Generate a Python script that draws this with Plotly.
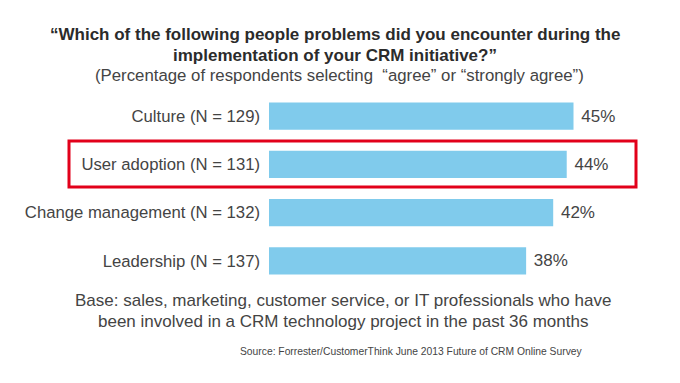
import plotly.graph_objects as go

categories = ["Culture (N = 129)", "User adoption (N = 131)", "Change management (N = 132)", "Leadership (N = 137)"]
values = [45, 44, 42, 38]

title_lines = ["<b>“Which of the following people problems did you encounter during the</b>",
               "<b>implementation of your CRM initiative?”</b>"]
subtitle = "(Percentage of respondents selecting  “agree” or “strongly agree”)"
base_lines = ["Base: sales, marketing, customer service, or IT professionals who have",
              "been involved in a CRM technology project in the past 36 months"]
source = "Source: Forrester/CustomerThink June 2013 Future of CRM Online Survey"

W, H = 680, 383
ML, MR, MT, MB = 269, 5, 92, 98
PW, PH = W - ML - MR, H - MT - MB

def px(x):
    return (x - ML) / PW

def py(y):
    return (H - MB - y) / PH

FONT = "Liberation Sans, Arial, sans-serif"
TXT = "#444444"

fig = go.Figure(go.Bar(
    x=values, y=categories, orientation="h",
    marker=dict(color="#80CBEC", line=dict(width=0)),
    width=0.56,
    text=[f"\u00a0{v}%" for v in values], textposition="outside",
    textfont=dict(size=17, color=TXT, family=FONT),
    cliponaxis=False,
    hoverinfo="skip",
))

anns = []
anns.append(dict(text=title_lines[0], x=px(335), y=py(34), font=dict(size=17, color="#2b2b2b", family=FONT)))
anns.append(dict(text=title_lines[1], x=px(335), y=py(55), font=dict(size=17, color="#2b2b2b", family=FONT)))
anns.append(dict(text=subtitle, x=px(339), y=py(76), font=dict(size=16.8, color=TXT, family=FONT)))
anns.append(dict(text=base_lines[0], x=px(343), y=py(300), font=dict(size=17, color=TXT, family=FONT)))
anns.append(dict(text=base_lines[1], x=px(343), y=py(321), font=dict(size=17, color=TXT, family=FONT)))
anns.append(dict(text=source, x=px(411), y=py(351), font=dict(size=10.3, color=TXT, family=FONT)))
for a in anns:
    a.update(xref="paper", yref="paper", showarrow=False, xanchor="center", yanchor="middle")

fig.update_layout(
    width=W, height=H,
    margin=dict(l=ML, r=MR, t=MT, b=MB),
    paper_bgcolor="white", plot_bgcolor="white",
    showlegend=False,
    xaxis=dict(range=[0, 60], visible=False, fixedrange=True),
    yaxis=dict(categoryorder="array", categoryarray=categories, autorange="reversed",
               showgrid=False, zeroline=False, showline=False, ticks="", fixedrange=True,
               tickfont=dict(size=16.7, color=TXT, family=FONT), ticklabelstandoff=8),
    annotations=anns,
    shapes=[dict(type="rect", xref="paper", yref="paper",
                 x0=px(69), x1=px(636), y0=py(141), y1=py(187),
                 line=dict(color="#E2001A", width=3), fillcolor="rgba(0,0,0,0)")],
)

fig.write_html("out.html", config={"displayModeBar": False},
               post_script="document.body.style.margin='0';document.body.style.overflow='hidden';")
